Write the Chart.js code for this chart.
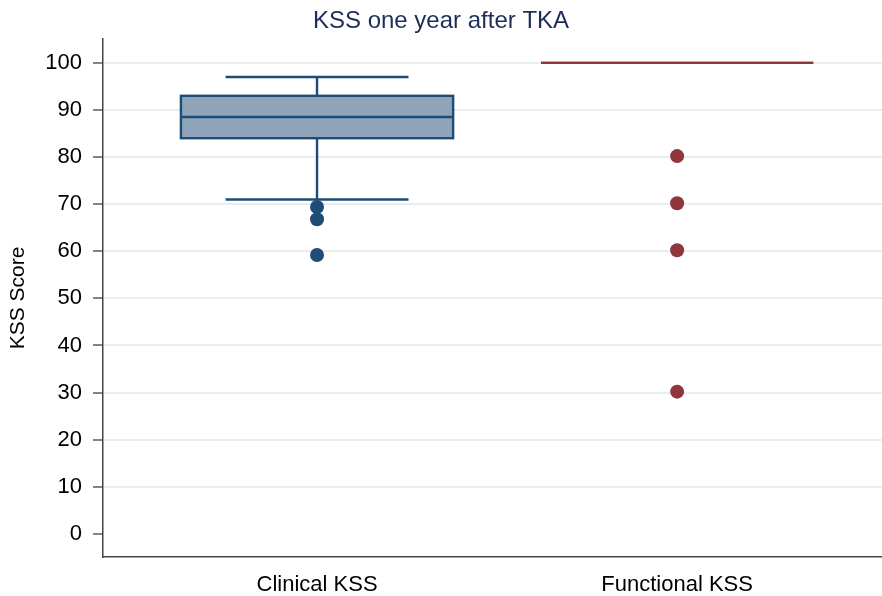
<!DOCTYPE html>
<html>
<head>
<meta charset="utf-8">
<script src="https://cdn.jsdelivr.net/npm/chart.js@4.4.1/dist/chart.umd.min.js"></script>
<style>
  html, body { margin: 0; padding: 0; background: #fff; }
  #wrap { width: 882px; height: 596px; }
</style>
</head>
<body>
<div id="wrap"><canvas id="chartCanvas" width="882" height="596"></canvas></div>
<script>
// box plot statistics, one entry per category
const categories = ["Clinical KSS", "Functional KSS"];
const lowerWhisker = [71, 100];
const q1 = [84, 100];
const median = [88.5, 100];
const q3 = [93, 100];
const upperWhisker = [97, 100];
const clinicalOutliers = [69.4, 66.8, 59.2];
const functionalOutliers = [80.2, 70.2, 60.2, 30.2];
const yTicks = [0, 10, 20, 30, 40, 50, 60, 70, 80, 90, 100];

const lineColors = ["#1f4c77", "#90353b"];
const fillColors = ["#8fa4b8", "rgba(0,0,0,0)"];
const boxWidth = 0.756;   // in x-axis units
const capWidth = 0.508;

const font = "'Liberation Sans', Arial, Helvetica, sans-serif";

const boxPlugin = {
  id: 'boxes',
  beforeDatasetsDraw(chart) {
    const { ctx, scales: { x, y } } = chart;
    ctx.save();
    categories.forEach((c, i) => {
      const cx = i + 1;
      const xl = x.getPixelForValue(cx - boxWidth / 2);
      const xr = x.getPixelForValue(cx + boxWidth / 2);
      const xc = x.getPixelForValue(cx);
      const cl = x.getPixelForValue(cx - capWidth / 2);
      const cr = x.getPixelForValue(cx + capWidth / 2);
      const yq1 = y.getPixelForValue(q1[i]);
      const yq3 = y.getPixelForValue(q3[i]);
      const ym = y.getPixelForValue(median[i]);
      const ylo = y.getPixelForValue(lowerWhisker[i]);
      const yhi = y.getPixelForValue(upperWhisker[i]);
      ctx.strokeStyle = lineColors[i];
      ctx.lineWidth = 2.4;
      // whiskers
      if (yhi < yq3 || ylo > yq1) {
        ctx.beginPath();
        ctx.moveTo(xc, yq3); ctx.lineTo(xc, yhi);
        ctx.moveTo(cl, yhi); ctx.lineTo(cr, yhi);
        ctx.moveTo(xc, yq1); ctx.lineTo(xc, ylo);
        ctx.moveTo(cl, ylo); ctx.lineTo(cr, ylo);
        ctx.stroke();
      }
      // box
      ctx.fillStyle = fillColors[i];
      ctx.fillRect(xl, yq3, xr - xl, yq1 - yq3);
      ctx.strokeRect(xl, yq3, xr - xl, yq1 - yq3);
      // median
      ctx.beginPath();
      ctx.moveTo(xl, ym); ctx.lineTo(xr, ym);
      ctx.stroke();
    });
    ctx.restore();
  }
};

new Chart(document.getElementById('chartCanvas'), {
  type: 'scatter',
  data: {
    datasets: [
      {
        label: categories[0],
        data: clinicalOutliers.map(v => ({ x: 1, y: v })),
        backgroundColor: lineColors[0],
        borderWidth: 0,
        pointRadius: 7
      },
      {
        label: categories[1],
        data: functionalOutliers.map(v => ({ x: 2, y: v })),
        backgroundColor: lineColors[1],
        borderWidth: 0,
        pointRadius: 7
      }
    ]
  },
  options: {
    responsive: false,
    animation: false,
    layout: { padding: 0, autoPadding: false },
    plugins: {
      legend: { display: false },
      tooltip: { enabled: false },
      title: {
        display: true,
        text: 'KSS one year after TKA',
        color: '#1f2d5a',
        font: { family: font, size: 24, weight: 'normal' },
        padding: { top: 7, bottom: 3 }
      }
    },
    scales: {
      x: {
        type: 'linear',
        min: 0.4056,
        max: 2.569,
        afterBuildTicks: axis => { axis.ticks = categories.map((c, i) => ({ value: i + 1 })); },
        afterFit: scale => { scale.height = 39; },
        ticks: {
          callback: v => categories[v - 1],
          color: '#000',
          font: { family: font, size: 22 },
          padding: 7,
          maxRotation: 0,
          autoSkip: false
        },
        grid: { display: false },
        border: { display: true, color: '#444', width: 1.5 }
      },
      y: {
        min: -4.9,
        max: 105.1,
        afterBuildTicks: axis => { axis.ticks = yTicks.map(v => ({ value: v })); },
        afterFit: scale => { scale.width = 103; },
        ticks: {
          color: '#000',
          font: { family: font, size: 22 },
          padding: 11
        },
        grid: {
          color: c => (c.tick && c.tick.value === 0) ? 'rgba(0,0,0,0)' : '#e6eef0',
          lineWidth: 2,
          tickColor: '#333',
          tickLength: 10,
          tickWidth: 1.2
        },
        border: { display: true, color: '#444', width: 1.5 },
        title: {
          display: true,
          text: 'KSS Score',
          color: '#000',
          font: { family: font, size: 21 },
          padding: { top: 6, bottom: 0 }
        }
      }
    }
  },
  plugins: [boxPlugin]
});
</script>
</body>
</html>
